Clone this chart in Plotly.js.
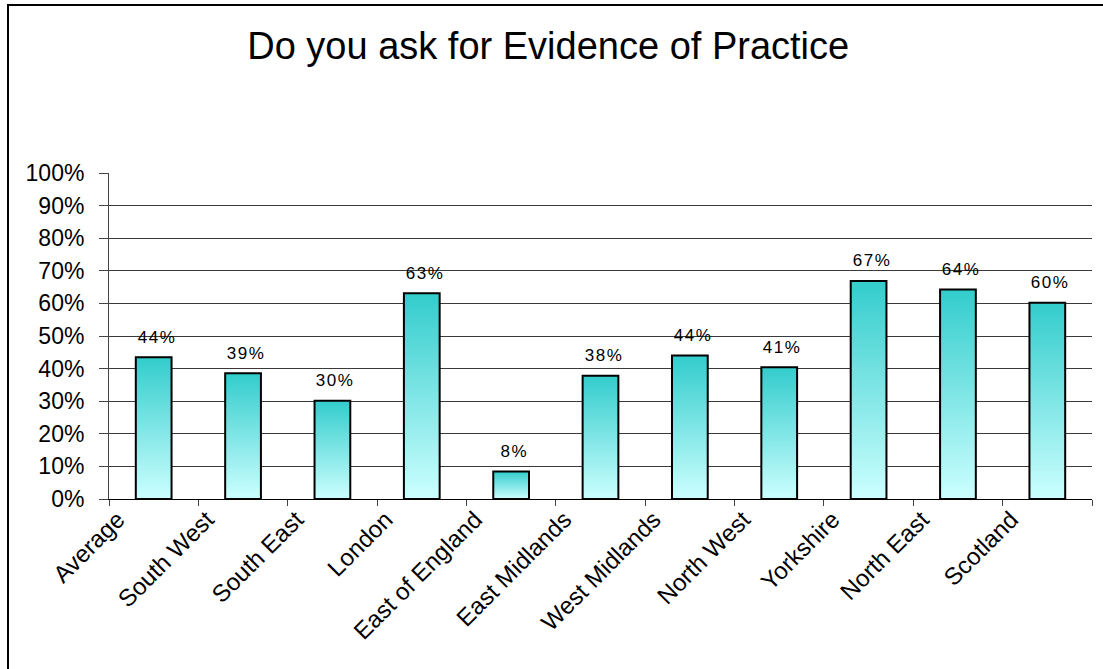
<!DOCTYPE html>
<html>
<head>
<meta charset="utf-8">
<script src="https://cdn.plot.ly/plotly-3.0.1.min.js"></script>
<style>
  html, body { margin: 0; padding: 0; background: #fff; }
  #wrap { position: relative; width: 1103px; height: 669px; overflow: hidden; }
  #chart { width: 1103px; height: 669px; }
  #frame { position: absolute; left: 7px; top: 4px; width: 1200px; height: 800px;
           border-left: 2px solid #000; border-top: 2px solid #000; pointer-events: none; }
  #chart .annotation-text { letter-spacing: 1.5px; }
</style>
</head>
<body>
<div id="wrap">
  <div id="chart"></div>
  <div id="frame"></div>
</div>
<script>
const categories = ["Average", "South West", "South East", "London", "East of England",
  "East Midlands", "West Midlands", "North West", "Yorkshire", "North East", "Scotland"];
const values = [43.5, 38.6, 30.1, 63.1, 8.4, 37.8, 44.0, 40.4, 66.9, 64.3, 60.2];
const valueLabels = ["44%", "39%", "30%", "63%", "8%", "38%", "44%", "41%", "67%", "64%", "60%"];
const yTicks = [0, 10, 20, 30, 40, 50, 60, 70, 80, 90, 100];
const chartTitle = "Do you ask for Evidence of Practice";

const font = "Liberation Sans, Arial, sans-serif";

const trace = {
  type: "bar",
  x: categories,
  y: values,
  marker: { color: "#7fe5e5", line: { color: "#000", width: 2 } },
  hoverinfo: "skip"
};

const annotations = categories.map((c, i) => ({
  x: c, y: values[i], xref: "x", yref: "y",
  text: valueLabels[i], showarrow: false,
  yanchor: "middle", xanchor: "center", yshift: 20, xshift: 3,
  font: { family: font, size: 17, color: "#000" }
}));

const layout = {
  width: 1103, height: 669,
  margin: { l: 109, r: 11, t: 173, b: 170 },
  paper_bgcolor: "#fff", plot_bgcolor: "#fff",
  showlegend: false,
  bargap: 0.6,
  title: { text: chartTitle, x: 0.497, xanchor: "center", y: 0.932, yanchor: "middle",
           font: { family: font, size: 38, color: "#000" } },
  xaxis: {
    type: "category",
    showline: true, linecolor: "#000", linewidth: 1,
    ticks: "outside", tickson: "boundaries", ticklen: 6, tickcolor: "#444",
    tickangle: -45, ticklabelshift: -36, ticklabelstandoff: -4,
    tickfont: { family: font, size: 24, color: "#000" },
    showgrid: false, fixedrange: true
  },
  yaxis: {
    range: [0, 100], tickvals: yTicks, ticktext: yTicks.map(v => v + "%"),
    showline: true, linecolor: "#444", linewidth: 1,
    ticks: "outside", ticklen: 9, tickcolor: "#444",
    ticklabelstandoff: 10,
    showgrid: true, gridcolor: "#3a3a3a", gridwidth: 1,
    zeroline: false,
    tickfont: { family: font, size: 23, color: "#000" },
    fixedrange: true
  },
  annotations: annotations
};

Plotly.newPlot("chart", [trace], layout, { displayModeBar: false, staticPlot: true }).then(() => {
  const svg = document.querySelector("#chart .main-svg");
  const ns = "http://www.w3.org/2000/svg";
  let defs = svg.querySelector("defs");
  if (!defs) { defs = document.createElementNS(ns, "defs"); svg.insertBefore(defs, svg.firstChild); }
  const grad = document.createElementNS(ns, "linearGradient");
  grad.setAttribute("id", "barGrad");
  grad.setAttribute("x1", "0"); grad.setAttribute("y1", "0");
  grad.setAttribute("x2", "0"); grad.setAttribute("y2", "1");
  [["0", "#33CCCC"], ["1", "#CCFFFF"]].forEach(([o, c]) => {
    const s = document.createElementNS(ns, "stop");
    s.setAttribute("offset", o); s.setAttribute("stop-color", c);
    grad.appendChild(s);
  });
  defs.appendChild(grad);
  svg.querySelectorAll("g.trace.bars g.point path").forEach(p => {
    p.style.fill = "url(#barGrad)";
  });
});
</script>
</body>
</html>
